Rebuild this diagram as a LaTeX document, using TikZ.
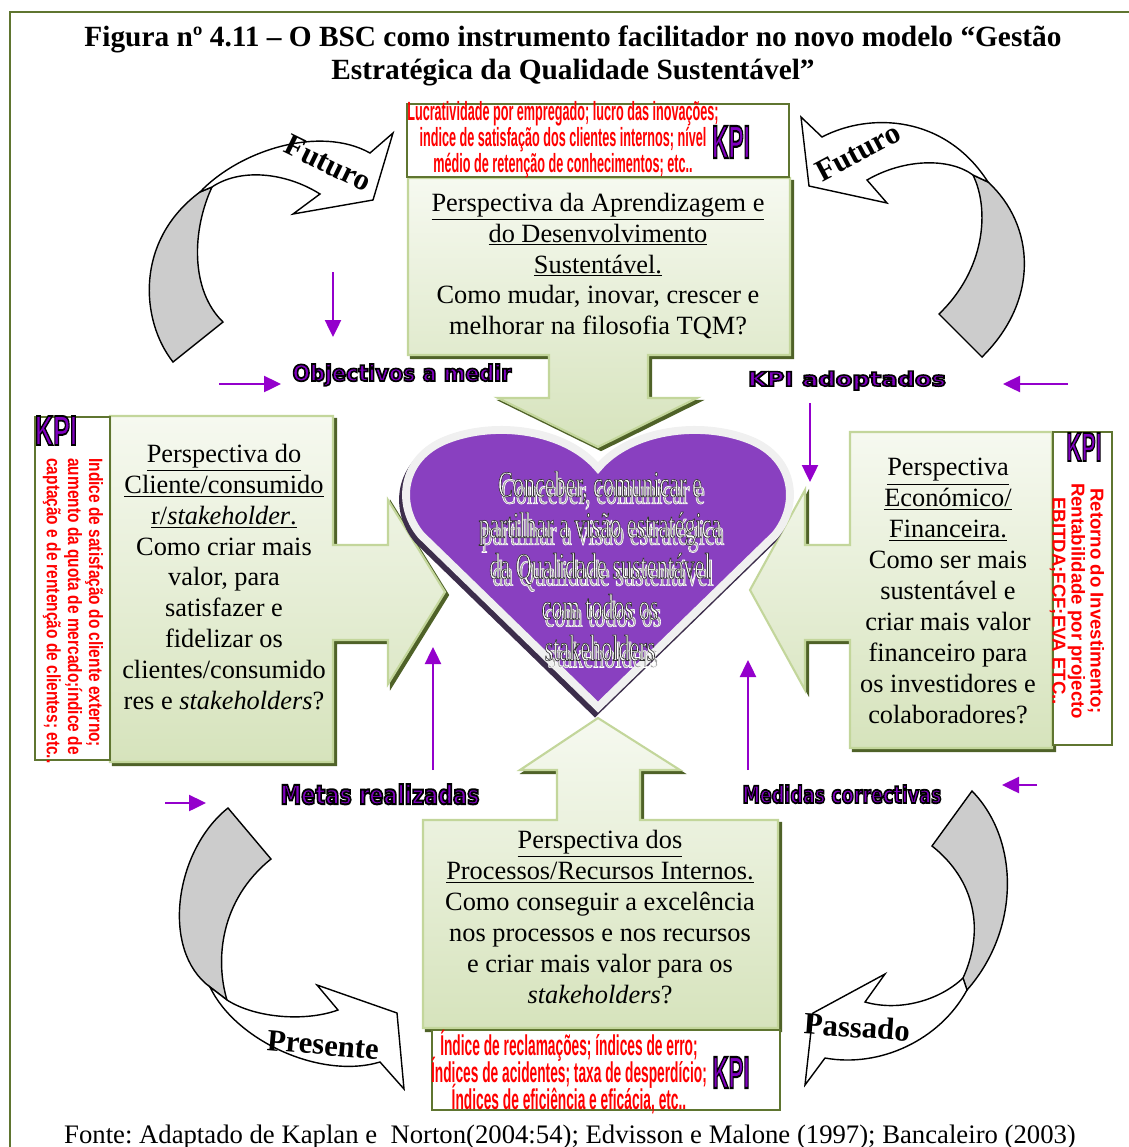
\documentclass[tikz,border=0pt]{standalone}
\usepackage{fontspec}
\setmainfont{Liberation Serif}
\newfontfamily\kpifont{Liberation Sans}[FakeStretch=0.48]
\newfontfamily\sidekpifont{Liberation Sans}[FakeStretch=0.8]
\newfontfamily\markfont{Liberation Sans}
\newfontfamily\visionfont{Liberation Serif}[FakeStretch=0.6]
\newfontfamily\tagfont{DejaVu Sans}
\usetikzlibrary{arrows.meta}

\definecolor{olivedark}{RGB}{95,117,48}
\definecolor{oliveshadow}{RGB}{79,98,40}
\definecolor{leafedge}{RGB}{195,214,155}
\definecolor{leaftop}{RGB}{246,249,240}
\definecolor{leafbottom}{RGB}{214,227,188}
\definecolor{kpired}{RGB}{255,0,0}
\definecolor{flowpurple}{RGB}{148,0,204}
\definecolor{tagpurple}{RGB}{128,0,192}
\definecolor{heartpurple}{RGB}{137,64,192}
\definecolor{heartshadow}{RGB}{60,45,75}
\definecolor{bandgray}{RGB}{204,204,204}

% filled and stroked glyphs: #1 rim width, #2 rim rgb, #3 fill colour, #4 text
\newcommand\outlined[4][1.2]{%
  {\color{#3}\special{pdf:literal direct #2 RG #1 w 2 Tr}#4\special{pdf:literal direct 0 Tr}}}
\newcommand\visionline[1]{\outlined[0.35]{0.2 0.2 0.2}{white}{#1}}
\newcommand\visionshade[1]{\outlined[0.35]{1 1 1}{gray!70}{#1}}
\newcommand\tagtext[3]{\resizebox{#1}{#2}{\tagfont\bfseries\outlined[0.75]{0 0 0}{tagpurple}{#3}}}
\newcommand\kpimark[2]{\resizebox{#1}{#2}{\markfont\bfseries\fontsize{24}{24}\selectfont\outlined[1.1]{0 0 0}{tagpurple}{KPI}}}
\newcommand\tightlines{\lineskiplimit=-20pt\relax}

\newcommand\learnshape{(408, 178) -- (790, 178) -- (790, 355) -- (648, 355) -- (648, 398) -- (697, 398) -- (598, 447) -- (498, 398) -- (549, 398) -- (549, 355) -- (408, 355) -- cycle}
\newcommand\clientshape{(110, 416) -- (333, 416) -- (333, 545) -- (388, 545) -- (388, 500) -- (445, 592) -- (388, 684) -- (388, 640) -- (333, 640) -- (333, 762) -- (110, 762) -- cycle}
\newcommand\financeshape{(850, 432) -- (1052, 432) -- (1052, 748) -- (850, 748) -- (850, 640) -- (805, 640) -- (805, 690) -- (750, 590) -- (805, 490) -- (805, 545) -- (850, 545) -- cycle}
\newcommand\processshape{(423, 820) -- (557, 820) -- (557, 770) -- (520, 770) -- (598, 718) -- (680, 770) -- (640, 770) -- (640, 820) -- (778, 820) -- (778, 1028) -- (423, 1028) -- cycle}
\newcommand\heartshape{(598, 468) .. controls (630, 430) and (700, 420) .. (750, 440) .. controls (795, 458) and (800, 505) .. (775, 535) -- (598, 707) -- (421, 535) .. controls (396, 505) and (401, 458) .. (446, 440) .. controls (496, 420) and (566, 430) .. (598, 468) -- cycle}

\begin{document}
\frenchspacing
\begin{tikzpicture}[x=0.02cm, y=-0.02cm,
    card/.style={top color=leaftop, bottom color=leafbottom, draw=leafedge, line width=1.2pt},
    cardshadow/.style={fill=oliveshadow, draw=oliveshadow, line width=1.2pt},
    kpibox/.style={draw=olivedark, fill=white, line width=1.3pt},
    persp/.style={align=center, inner sep=0pt, font=\fontsize{15}{17.6}\selectfont},
    kpilist/.style={text=kpired, align=center, inner sep=0pt},
    vision/.style={align=center, inner sep=0pt, font=\visionfont\fontsize{21}{23.3}\selectfont},
    flow/.style={draw=flowpurple, line width=1.4pt, -{Triangle[length=0.34cm, width=0.32cm]}},
    band/.style={fill=bandgray, draw=black, line width=0.8pt},
    sweep/.style={fill=white, draw=black, line width=0.8pt},
    timeword/.style={inner sep=0pt, font=\bfseries\fontsize{17.5}{17.5}\selectfont},
    tag/.style={anchor=base, inner sep=0pt}]

  \useasboundingbox (0, 0) rectangle (1129, 1147);
  \draw [olivedark, line width=1.3pt] (10, 1160) -- (10, 12) -- (1129, 12);

  \node [align=center, inner sep=0pt, font=\bfseries\fontsize{16.7}{18.4}\selectfont] (title) at (573, 56)
    {Figura nº 4.11 – O BSC como instrumento facilitador no novo modelo “Gestão\\ Estratégica da Qualidade Sustentável”};

  % curved arrows
  \draw [band] (173, 362) .. controls (140, 320) and (135, 240) .. (200, 192) -- (212, 187) .. controls (192, 230) and (190, 290) .. (223, 322) -- cycle;
  \draw [sweep] (200, 192) .. controls (240, 150) and (320, 125) .. (370, 153) -- (393, 133) -- (373, 200) -- (293, 214) -- (320, 194) .. controls (285, 172) and (240, 168) .. (212, 187) -- cycle;
  \node [timeword, rotate=-26] (futleft) at (328, 163) {Futuro};

  \draw [band] (988, 182) .. controls (1035, 225) and (1040, 300) .. (982, 357) -- (939, 314) .. controls (985, 270) and (990, 210) .. (973, 175) -- cycle;
  \draw [sweep] (801, 117) -- (822, 137) .. controls (870, 112) and (945, 115) .. (988, 182) -- (973, 175) .. controls (950, 158) and (905, 158) .. (867, 180) -- (887, 203) -- (809, 186) -- cycle;
  \node [timeword, rotate=28] (futright) at (858, 152) {Futuro};

  \draw [band] (228, 808) .. controls (175, 850) and (160, 950) .. (210, 987) -- (227, 1000) .. controls (215, 960) and (220, 900) .. (271, 859) -- cycle;
  \draw [sweep] (210, 987) .. controls (235, 1040) and (320, 1080) .. (380, 1062) -- (404, 1089) -- (397, 1013) -- (317, 985) -- (338, 1010) .. controls (305, 1022) and (255, 1018) .. (227, 1000) -- cycle;
  \node [timeword, rotate=-5] (present) at (323, 1045) {Presente};

  \draw [band] (972, 791) .. controls (1020, 840) and (1020, 930) .. (967, 990) -- (963, 978) .. controls (985, 930) and (975, 880) .. (932, 846) -- cycle;
  \draw [sweep] (967, 990) .. controls (940, 1040) and (880, 1068) .. (825, 1058) -- (805, 1085) -- (813, 1013) -- (885, 974) -- (865, 1002) .. controls (900, 1012) and (940, 1000) .. (963, 978) -- cycle;
  \node [timeword, rotate=-4] (past) at (857, 1027) {Passado};

  % perspective callouts
  \begin{scope}[shift={(3, 3)}]
    \filldraw [cardshadow] \learnshape;
    \filldraw [cardshadow] \clientshape;
    \filldraw [cardshadow] \financeshape;
    \filldraw [cardshadow] \processshape;
  \end{scope}
  \draw [card] \learnshape;
  \draw [card] \clientshape;
  \draw [card] \financeshape;
  \draw [card] \processshape;

  \draw [kpibox] (407, 104) rectangle (789, 177);
  \draw [kpibox] (35, 417) rectangle (110, 760);
  \draw [kpibox] (1053, 432) rectangle (1112, 745);
  \draw [kpibox] (432, 1030) rectangle (780, 1110);

  \node [persp] (learn) at (598, 266) {\underline{Perspectiva da Aprendizagem e}\\ \underline{do Desenvolvimento}\\ \underline{Sustentável.}\\ Como mudar, inovar, crescer e\\ melhorar na filosofia TQM?};
  \node [persp] (client) at (224, 577) {\underline{Perspectiva do}\\ \underline{Cliente/consumido}\\ \underline{r/\textit{stakeholder}.}\\ Como criar mais\\ valor, para\\ satisfazer e\\ fidelizar os\\ clientes/consumido\\ res e \textit{stakeholders}?};
  \node [persp] (finance) at (948, 591) {\underline{Perspectiva}\\ \underline{Económico/}\\ \underline{Financeira.}\\ Como ser mais\\ sustentável e\\ criar mais valor\\ financeiro para\\ os investidores e\\ colaboradores?};
  \node [persp] (process) at (600, 917) {\underline{Perspectiva dos}\\ \underline{Processos/Recursos Internos.}\\ Como conseguir a excelência\\ nos processos e nos recursos\\ e criar mais valor para os\\ \textit{stakeholders}?};

  \node [kpilist, font=\kpifont\bfseries\fontsize{15}{14.8}\selectfont\tightlines] (learnkpi) at (563, 140) {Lucratividade por empregado; lucro das inovações;\\ indice de satisfação dos clientes internos; nível\\ médio de retenção de conhecimentos; etc..};
  \node [kpilist, font=\kpifont\bfseries\fontsize{16.3}{15.6}\selectfont\tightlines] (processkpi) at (569, 1072) {Índice de reclamações; índices de erro;\\ Índices de acidentes; taxa de desperdício;\\ Índices de eficiência e eficácia, etc..};
  \node [kpilist, font=\sidekpifont\bfseries\fontsize{11}{12}\selectfont, align=left, rotate=-90, anchor=west] (clientkpi) at (73, 458) {Indice de satisfação do cliente externo;\\ aumento da quota de mercado;índice de\\ captação e de rentenção de clientes; etc..};
  \node [kpilist, font=\markfont\bfseries\fontsize{10.6}{10.8}\selectfont, rotate=-90] (financekpi) at (1077, 601) {Retorno do Investimento;\\ Rentabilidade por projecto\\ EBITDA;FCF;EVA ETC..};

  \node [tag] (learnmark) at (731, 158) {\kpimark{0.76cm}{0.64cm}};
  \node [tag] (clientmark) at (56, 445) {\kpimark{0.84cm}{0.58cm}};
  \node [tag] (financemark) at (1084, 461) {\kpimark{0.70cm}{0.56cm}};
  \node [tag] (processmark) at (731, 1088) {\kpimark{0.74cm}{0.62cm}};

  % heart
  \filldraw [heartshadow, line width=4.5pt, shift={(-3, 5)}] \heartshape;
  \filldraw [fill=heartpurple, draw=gray!12, line width=4.5pt] \heartshape;
  \node [vision, shift={(3, 7)}] (visionshade) at (600, 566) {\visionshade{Conceber, comunicar e}\\ \visionshade{partilhar a visão estratégica}\\ \visionshade{da Qualidade sustentável}\\ \visionshade{com todos os}\\ \visionshade{stakeholders}};
  \node [vision] (vision) at (600, 566) {\visionline{Conceber, comunicar e}\\ \visionline{partilhar a visão estratégica}\\ \visionline{da Qualidade sustentável}\\ \visionline{com todos os}\\ \visionline{stakeholders}};

  % small purple arrows
  \coordinate (goalsin) at (333, 272);
  \coordinate (goalsout) at (333, 337);
  \coordinate (leftin) at (219, 384);
  \coordinate (leftout) at (281, 384);
  \coordinate (rightin) at (1068, 384);
  \coordinate (rightout) at (1003, 384);
  \coordinate (adoptin) at (810, 403);
  \coordinate (adoptout) at (810, 482);
  \coordinate (reachin) at (433, 770);
  \coordinate (reachout) at (433, 647);
  \coordinate (fixin) at (748, 770);
  \coordinate (fixout) at (748, 660);
  \coordinate (lowleftin) at (165, 803);
  \coordinate (lowleftout) at (206, 803);
  \coordinate (lowrightin) at (1037, 785);
  \coordinate (lowrightout) at (1002, 785);
  \draw [flow] (goalsin) -- (goalsout);
  \draw [flow] (leftin) -- (leftout);
  \draw [flow] (rightin) -- (rightout);
  \draw [flow] (adoptin) -- (adoptout);
  \draw [flow] (reachin) -- (reachout);
  \draw [flow] (fixin) -- (fixout);
  \draw [flow] (lowleftin) -- (lowleftout);
  \draw [flow] (lowrightin) -- (lowrightout);

  \node [tag] (goals) at (402, 381) {\tagtext{4.38cm}{0.34cm}{Objectivos a medir}};
  \node [tag] (adopted) at (847, 386) {\tagtext{3.96cm}{0.30cm}{KPI adoptados}};
  \node [tag] (reached) at (380, 804) {\tagtext{3.98cm}{0.40cm}{Metas realizadas}};
  \node [tag] (fixes) at (842, 803) {\tagtext{3.98cm}{0.36cm}{Medidas correctivas}};

  \node [inner sep=0pt, font=\fontsize{15.2}{17}\selectfont] (source) at (570, 1137) {Fonte: Adaptado de Kaplan e\ \ Norton(2004:54); Edvisson e Malone (1997); Bancaleiro (2003)};
\end{tikzpicture}
\end{document}
